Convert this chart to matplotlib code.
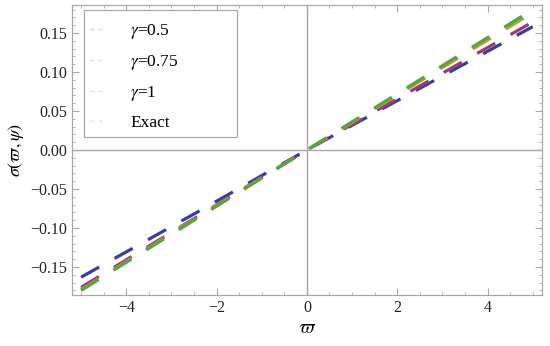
import matplotlib
matplotlib.use("Agg")
import matplotlib.pyplot as plt
from matplotlib.patches import Rectangle
from matplotlib.ticker import MultipleLocator, FuncFormatter

plt.rcParams['font.family'] = ['Liberation Serif', 'DejaVu Serif']
plt.rcParams['mathtext.fontset'] = 'stix'
plt.rcParams['axes.unicode_minus'] = True

# values
x_pts = [-5, -2.5, 0, 2.5, 5]
sig_g05 = [-0.163, -0.082, 0.0, 0.079, 0.158]
sig_g075 = [-0.176, -0.088, 0.0, 0.082, 0.164]
sig_g1 = [-0.179, -0.089, 0.0, 0.088, 0.176]
sig_exact = [-0.180, -0.090, 0.0, 0.090, 0.180]

labels = [r"$\gamma$=0.5", r"$\gamma$=0.75", r"$\gamma$=1", "Exact"]
series = [sig_g05, sig_g075, sig_g1, sig_exact]
colors = ["#3c3c9c", "#9c3c72", "#b0a040", "#5ea044"]
faint = ["#d6d6e8", "#e8d6e0", "#e8e4d2", "#d8e8d2"]

W, H = 550, 346
fig = plt.figure(figsize=(5.5, 3.46), dpi=100)
ax = fig.add_axes([0.131, 0.147, 0.854, 0.839])

gray = "#a8a8a8"
ax.axhline(0, color=gray, lw=1.0, zorder=1)
ax.axvline(0, color=gray, lw=1.0, zorder=1)

for y, c in zip(series, colors):
    ax.plot(x_pts, y, color=c, lw=2.3, dashes=(6.5, 5.5),
            solid_capstyle='butt', dash_capstyle='butt', zorder=3)

ax.set_xlim(-5.2, 5.2)
ax.set_ylim(-0.186, 0.186)

ax.xaxis.set_major_locator(MultipleLocator(2))
ax.xaxis.set_minor_locator(MultipleLocator(0.5))
ax.yaxis.set_major_locator(MultipleLocator(0.05))
ax.yaxis.set_minor_locator(MultipleLocator(0.01))
ax.yaxis.set_major_formatter(FuncFormatter(lambda v, p: ("%.2f" % v).replace("-", "\u2212")))

ax.tick_params(which='both', direction='in', top=True, right=True,
               color=gray, labelsize=11.5, labelcolor='#222222')
ax.tick_params(which='major', length=5, width=0.8)
ax.tick_params(which='minor', length=2.5, width=0.6)
for s in ax.spines.values():
    s.set_color(gray)
    s.set_linewidth(0.9)

ax.set_xlabel(r"$\varpi$", fontsize=14, labelpad=3)
ax.set_ylabel(r"$\sigma(\varpi,\psi)$", fontsize=13, labelpad=3)

# legend box (Mathematica style, wide frame)
box = Rectangle((84 / W, 1 - 137 / H), (237 - 84) / W, (137 - 10) / H,
                transform=fig.transFigure, facecolor='white', edgecolor=gray,
                lw=0.9, zorder=5)
fig.patches.append(box)

handles = []
for lab, c in zip(labels, faint):
    h, = ax.plot([], [], color=c, lw=1.0, dashes=(3, 3), label=lab)
    handles.append(h)
leg = fig.legend(handles=handles, loc='upper left',
                 bbox_to_anchor=(85 / W, 1 - 17 / H),
                 fontsize=12.5, frameon=False, handlelength=0.7,
                 handletextpad=1.6, labelspacing=0.68, borderpad=0.3,
                 borderaxespad=0.0)
leg.set_zorder(6)

fig.savefig("out.png", dpi=100)
